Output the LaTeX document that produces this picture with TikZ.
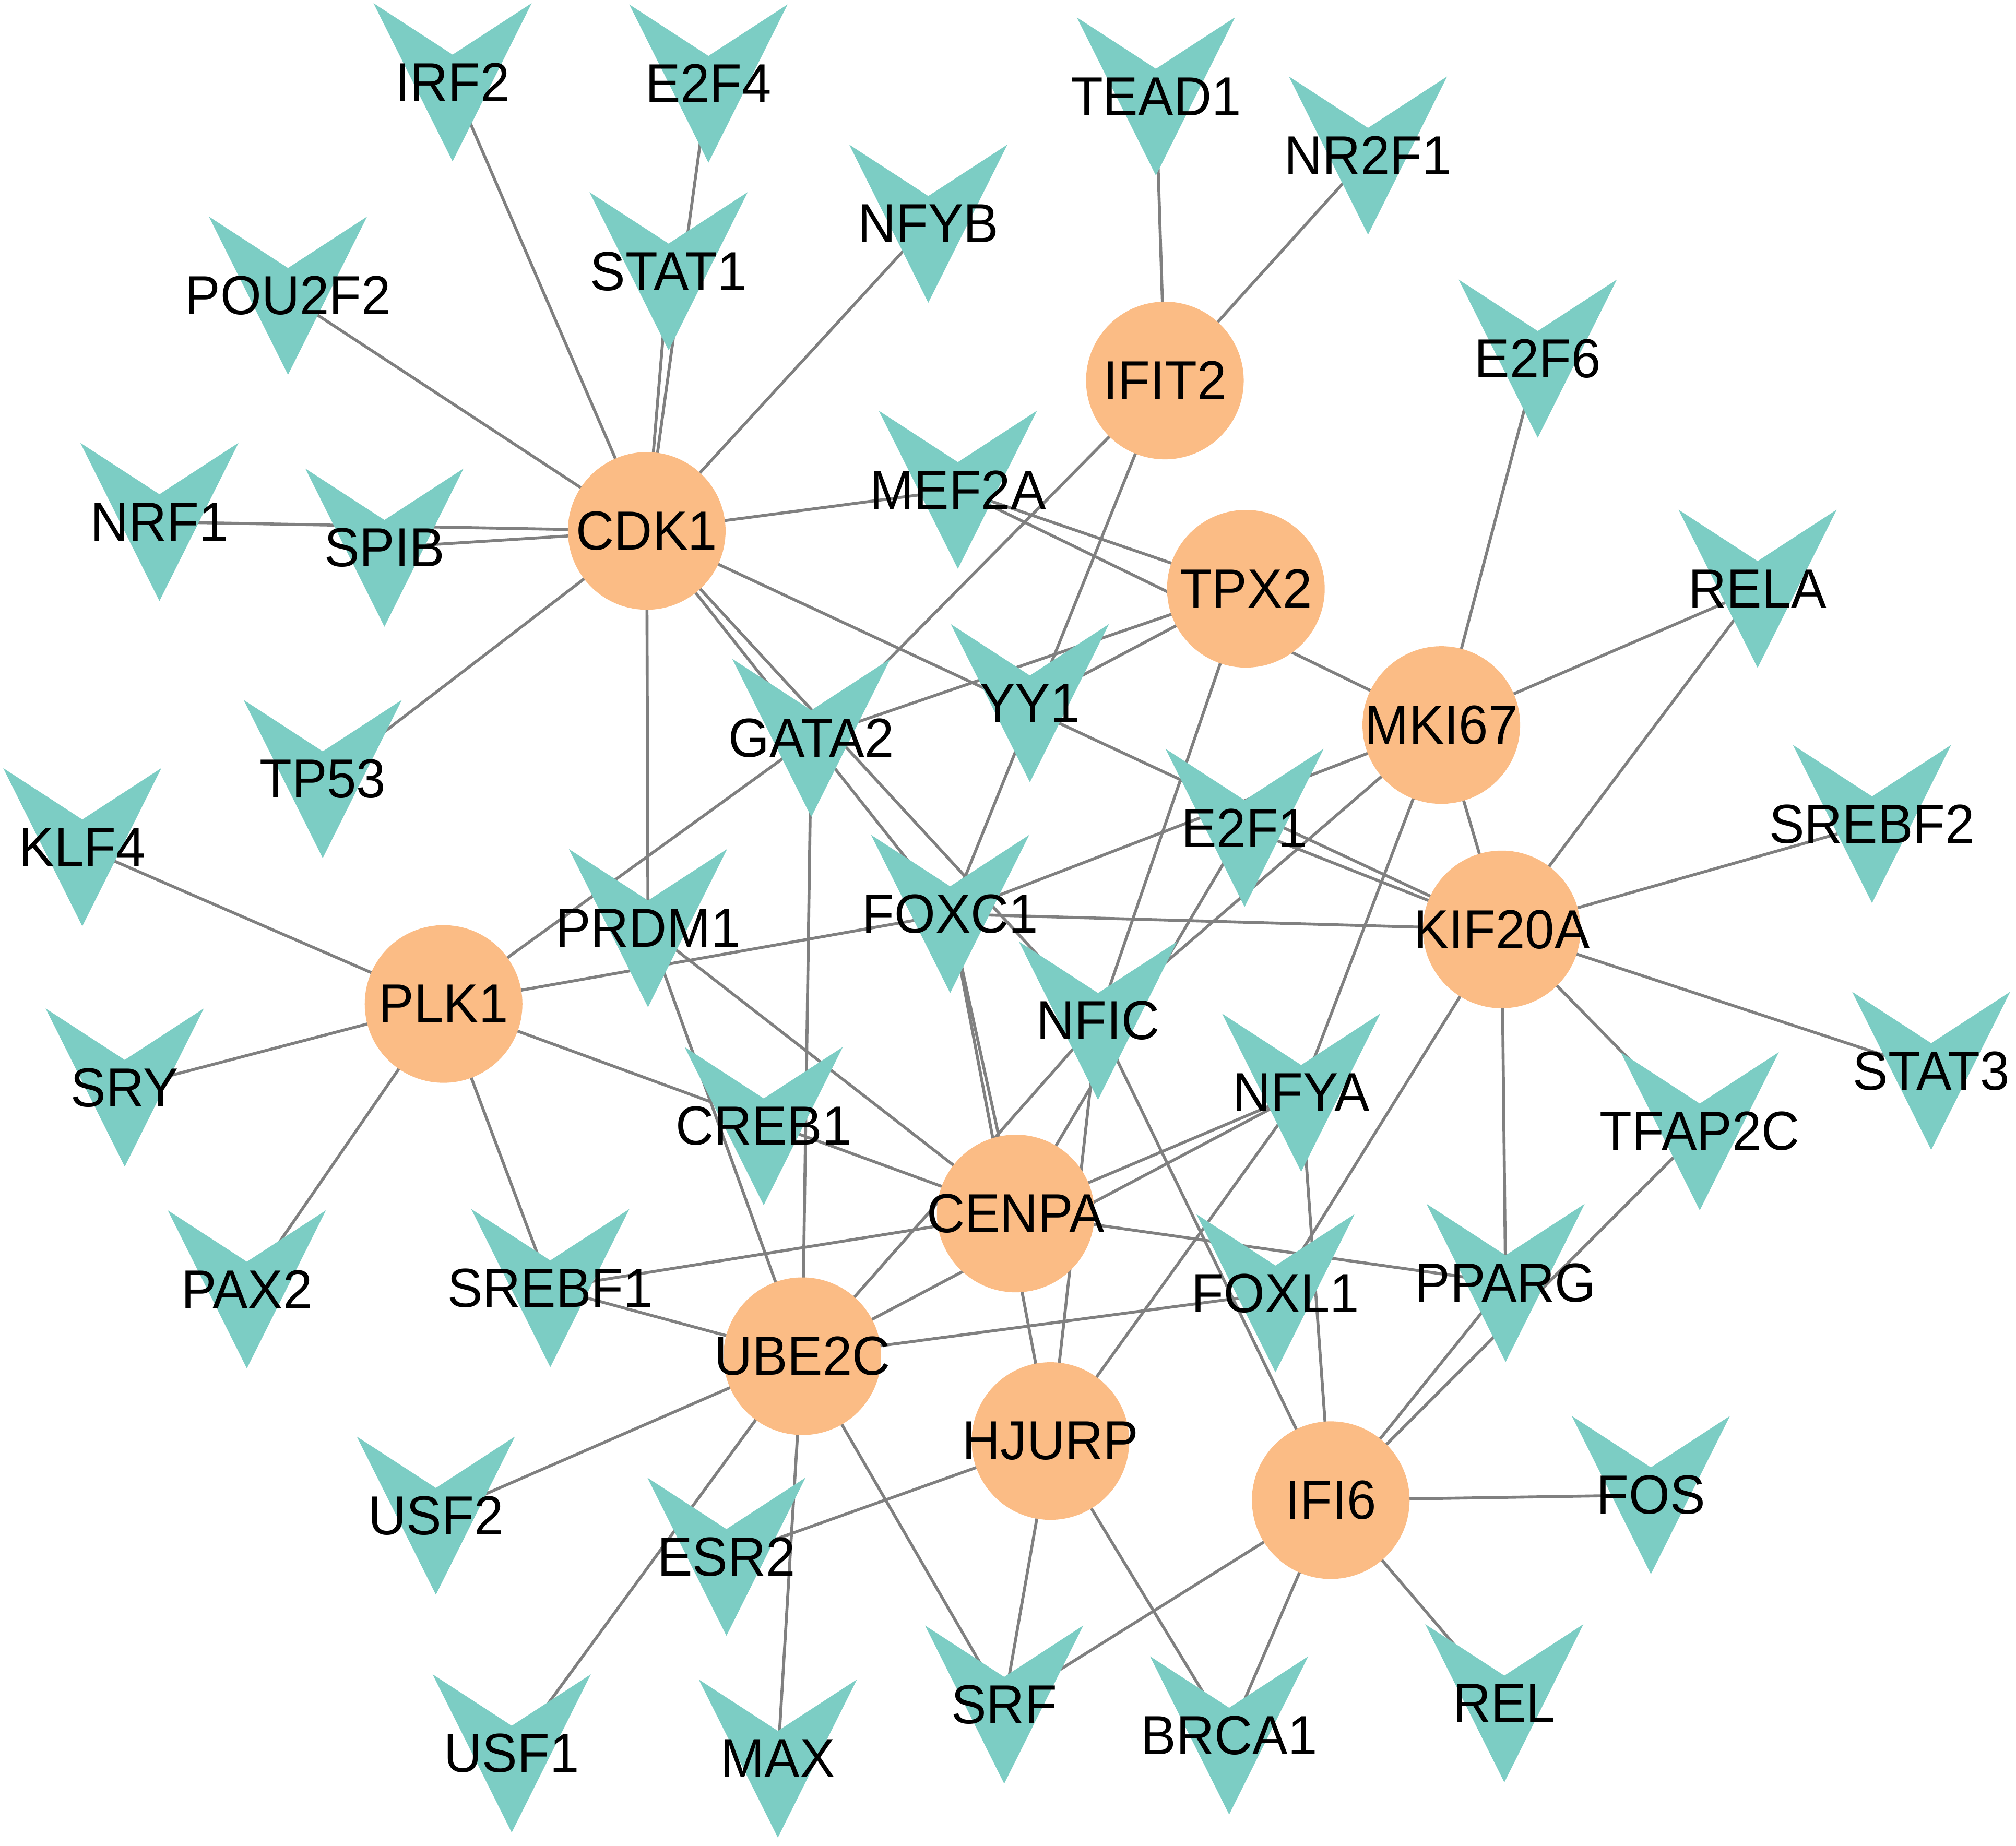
\documentclass[tikz,border=0pt]{standalone}
\usepackage{fontspec}
\setmainfont{Liberation Sans}[FakeStretch=0.96]
\usetikzlibrary{backgrounds}
\definecolor{vcol}{RGB}{124,205,196}
\definecolor{ccol}{RGB}{251,188,133}
\definecolor{ecol}{RGB}{128,128,128}
\newcommand{\nodefont}{\fontsize{30}{36}\selectfont}
\newcommand{\hl}[1]{\makebox[0pt]{#1}}
\begin{document}
\begin{tikzpicture}[x=0.02463cm, y=-0.02463cm,
  hub/.style={circle, fill=ccol, inner sep=0pt, minimum size=3.02cm, font=\nodefont},
  tf/.style={rectangle, inner sep=0pt, minimum width=3.1cm, minimum height=3.1cm, font=\nodefont,
    path picture={\fill[vcol] (path picture bounding box.center) ++(-61.5,-61.5) -- ++(61.5,40) -- ++(61.5,-40) -- ++(-61.5,123) -- cycle;}},
  edge/.style={draw=ecol, line width=1.6pt}]
\useasboundingbox (0,0) rectangle (1568,1436);

% hub nodes
\node[hub] (CDK1) at (503,413) {\hl{CDK1}};
\node[hub] (IFIT2) at (906,296) {\hl{IFIT2}};
\node[hub] (TPX2) at (969,458) {\hl{TPX2}};
\node[hub] (MKI67) at (1121,564) {\hl{MKI67}};
\node[hub] (KIF20A) at (1168,723) {\hl{KIF20A}};
\node[hub] (PLK1) at (345,781) {\hl{PLK1}};
\node[hub] (CENPA) at (790,944) {\hl{CENPA}};
\node[hub] (UBE2C) at (624,1055) {\hl{UBE2C}};
\node[hub] (HJURP) at (817,1121) {\hl{HJURP}};
\node[hub] (IFI6) at (1035,1167) {\hl{IFI6}};

% transcription factor nodes
\node[tf] (IRF2) at (352,64) {IRF2};
\node[tf] (E2F4) at (551,65) {E2F4};
\node[tf] (TEAD1) at (899,75) {TEAD1};
\node[tf] (NR2F1) at (1064,121) {NR2F1};
\node[tf] (POU2F2) at (224,230) {POU2F2};
\node[tf] (STAT1) at (520,211) {STAT1};
\node[tf] (NFYB) at (722,174) {NFYB};
\node[tf] (E2F6) at (1196,279) {E2F6};
\node[tf] (NRF1) at (124,406) {NRF1};
\node[tf] (SPIB) at (299,426) {SPIB};
\node[tf] (MEF2A) at (745,381) {MEF2A};
\node[tf] (RELA) at (1367,458) {RELA};
\node[tf] (TP53) at (251,606) {TP53};
\node[tf] (GATA2) at (631,574) {GATA2};
\node[tf] (YY1) at (801,547) {YY1};
\node[tf] (KLF4) at (64,659) {KLF4};
\node[tf] (E2F1) at (968,644) {E2F1};
\node[tf] (SREBF2) at (1456,641) {SREBF2};
\node[tf] (PRDM1) at (504,722) {PRDM1};
\node[tf] (FOXC1) at (739,711) {FOXC1};
\node[tf] (NFIC) at (854,794) {NFIC};
\node[tf] (STAT3) at (1502,833) {STAT3};
\node[tf] (SRY) at (97,846) {SRY};
\node[tf] (CREB1) at (594,876) {CREB1};
\node[tf] (NFYA) at (1012,850) {NFYA};
\node[tf] (TFAP2C) at (1322,880) {TFAP2C};
\node[tf] (PAX2) at (192,1003) {PAX2};
\node[tf] (SREBF1) at (428,1002) {SREBF1};
\node[tf] (FOXL1) at (992,1006) {FOXL1};
\node[tf] (PPARG) at (1171,998) {PPARG};
\node[tf] (USF2) at (339,1179) {USF2};
\node[tf] (ESR2) at (565,1211) {ESR2};
\node[tf] (FOS) at (1284,1163) {FOS};
\node[tf] (USF1) at (398,1364) {USF1};
\node[tf] (MAX) at (605,1368) {MAX};
\node[tf] (SRF) at (781,1326) {SRF};
\node[tf] (BRCA1) at (956,1350) {BRCA1};
\node[tf] (REL) at (1170,1325) {REL};

\begin{pgfonlayer}{background}
\foreach \a/\b in {CDK1/IRF2, CDK1/E2F4, CDK1/STAT1, CDK1/NFYB, CDK1/POU2F2, CDK1/NRF1, CDK1/SPIB, CDK1/MEF2A, CDK1/TP53, CDK1/PRDM1, CDK1/KIF20A, CDK1/FOXC1, CDK1/NFIC,
  IFIT2/TEAD1, IFIT2/NR2F1, IFIT2/GATA2, IFIT2/FOXC1,
  TPX2/MEF2A, TPX2/GATA2, TPX2/YY1, TPX2/NFIC,
  MKI67/MEF2A, MKI67/E2F6, MKI67/RELA, MKI67/KIF20A, MKI67/FOXC1, MKI67/NFIC, MKI67/NFYA,
  KIF20A/RELA, KIF20A/SREBF2, KIF20A/STAT3, KIF20A/TFAP2C, KIF20A/PPARG, KIF20A/FOXL1, KIF20A/FOXC1, KIF20A/E2F1,
  PLK1/KLF4, PLK1/SRY, PLK1/PAX2, PLK1/SREBF1, PLK1/GATA2, PLK1/FOXC1, PLK1/CENPA,
  CENPA/PRDM1, CENPA/FOXC1, CENPA/E2F1, CENPA/NFYA, CENPA/SREBF1, CENPA/PPARG,
  UBE2C/SREBF1, UBE2C/GATA2, UBE2C/PRDM1, UBE2C/NFIC, UBE2C/NFYA, UBE2C/FOXL1, UBE2C/USF2, UBE2C/USF1, UBE2C/MAX, UBE2C/SRF,
  HJURP/FOXC1, HJURP/NFIC, HJURP/NFYA, HJURP/ESR2, HJURP/SRF, HJURP/BRCA1,
  IFI6/NFIC, IFI6/NFYA, IFI6/PPARG, IFI6/TFAP2C, IFI6/FOS, IFI6/REL, IFI6/BRCA1, IFI6/SRF}
  \draw[edge] (\a.center) -- (\b.center);
\end{pgfonlayer}
\end{tikzpicture}
\end{document}
